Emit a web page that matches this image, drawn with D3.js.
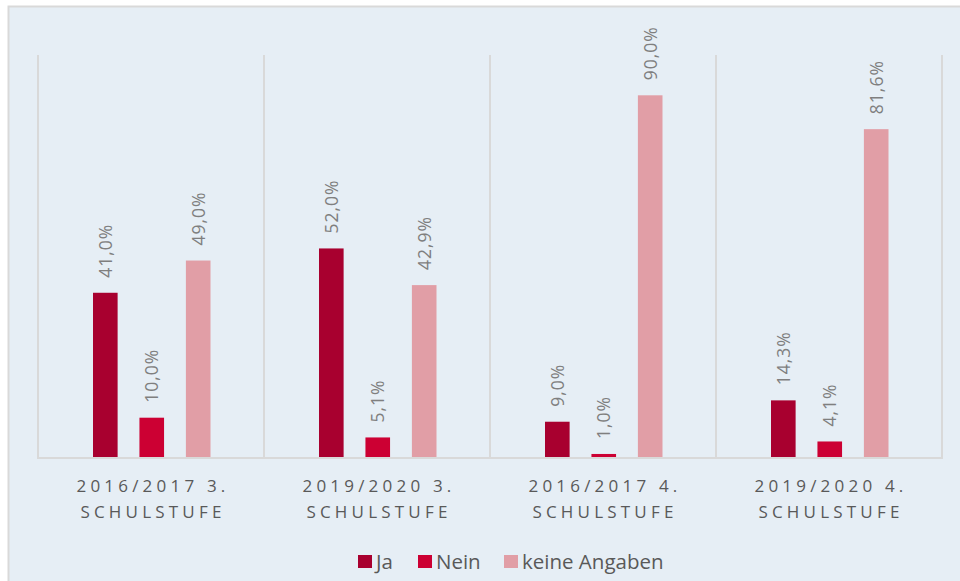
<!DOCTYPE html>
<html>
<head>
<meta charset="utf-8">
<script src="https://cdn.jsdelivr.net/npm/d3@7"></script>
<style>
  body { margin: 0; background: #ffffff; }
  text { font-family: "Open Sans", "Noto Sans", sans-serif; }
</style>
</head>
<body>
<div id="chart"></div>
<script>
var categories = [
    ["2016/2017 3.", "SCHULSTUFE"],
    ["2019/2020 3.", "SCHULSTUFE"],
    ["2016/2017 4.", "SCHULSTUFE"],
    ["2019/2020 4.", "SCHULSTUFE"]
];
var series = ["Ja", "Nein", "keine Angaben"];
var ja = [41.0, 52.0, 9.0, 14.3];
var nein = [10.0, 5.1, 1.0, 4.1];
var keine = [49.0, 42.9, 90.0, 81.6];
var colors = ["#a8002f", "#cc0033", "#e19ea6"];

var width = 960, height = 581;
var plotLeft = 38, plotRight = 942, plotTop = 55, base = 458;

var svg = d3.select("#chart").append("svg")
    .attr("width", width)
    .attr("height", height);

// panel
svg.append("rect")
    .attr("x", 8.5).attr("y", 6.5)
    .attr("width", width).attr("height", height)
    .attr("fill", "#e6eef5")
    .attr("stroke", "#d9d9d9")
    .attr("stroke-width", 2);

var catKeys = categories.map(function(c) { return c.join(" "); });

var x0 = d3.scaleBand().domain(catKeys).range([plotLeft, plotRight]).padding(0);
var x1 = d3.scaleBand().domain(series).range([55, 172.5]).paddingInner(0.47).paddingOuter(0);
var y = d3.scaleLinear().domain([0, 100]).range([base, plotTop]);

// separators
var seps = catKeys.map(function(k) { return x0(k); }).concat([plotRight]);
svg.selectAll(".sep").data(seps).enter().append("line")
    .attr("x1", function(d) { return d; })
    .attr("x2", function(d) { return d; })
    .attr("y1", plotTop).attr("y2", base)
    .attr("stroke", "#d9d9d9")
    .attr("stroke-width", 2);

var table = [];
catKeys.forEach(function(k, i) {
    [ja, nein, keine].forEach(function(arr, j) {
        table.push({cat: k, s: series[j], v: arr[i], c: colors[j]});
    });
});

svg.selectAll(".bar").data(table).enter().append("rect")
    .attr("x", function(d) { return x0(d.cat) + x1(d.s); })
    .attr("y", function(d) { return y(d.v); })
    .attr("width", x1.bandwidth())
    .attr("height", function(d) { return base - y(d.v); })
    .attr("fill", function(d) { return d.c; });

svg.selectAll(".lbl").data(table).enter().append("text")
    .attr("transform", function(d) {
        var cx = x0(d.cat) + x1(d.s) + x1.bandwidth() / 2;
        return "translate(" + (cx + 6.5) + "," + (y(d.v) - 15) + ") rotate(-90)";
    })
    .attr("font-size", "17.5px")
    .attr("letter-spacing", "1px")
    .attr("fill", "#7f7f7f")
    .text(function(d) { return d.v.toFixed(1).replace(".", ",") + "%"; });

// baseline
svg.append("line")
    .attr("x1", plotLeft - 1).attr("x2", plotRight + 1)
    .attr("y1", base).attr("y2", base)
    .attr("stroke", "#d9d9d9")
    .attr("stroke-width", 2);

// category labels
var xAxis = svg.append("g");
catKeys.forEach(function(k, i) {
    var t = xAxis.append("text")
        .attr("y", 492)
        .attr("text-anchor", "middle")
        .attr("font-size", "17px")
        .attr("letter-spacing", "4.2px")
        .attr("fill", "#595959");
    categories[i].forEach(function(line, li) {
        t.append("tspan")
            .attr("x", x0(k) + x0.bandwidth() / 2 + 2)
            .attr("dy", li === 0 ? 0 : 26)
            .text(line);
    });
});

// legend
var legendX = [358, 418, 504];
var legend = svg.selectAll(".leg").data(series).enter().append("g")
    .attr("transform", function(d, i) { return "translate(" + legendX[i] + ",555)"; });
legend.append("rect")
    .attr("width", 14).attr("height", 13)
    .attr("fill", function(d, i) { return colors[i]; });
legend.append("text")
    .attr("x", 18).attr("y", 14)
    .attr("font-size", "20.5px")
    .attr("fill", "#595959")
    .text(function(d) { return d; });
</script>
</body>
</html>
